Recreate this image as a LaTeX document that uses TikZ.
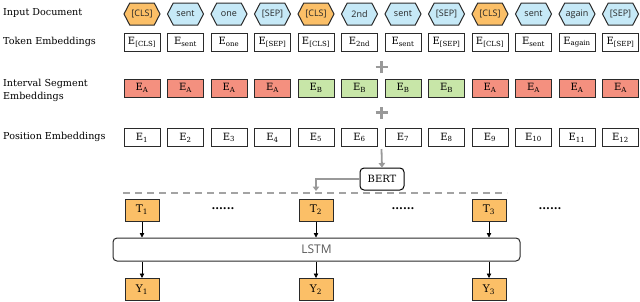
\documentclass[tikz,border=0pt]{standalone}
\usepackage{fontspec}
\setmainfont{DejaVu Serif}
\newfontfamily\hexfont{Open Sans}
\usetikzlibrary{shapes.symbols,arrows.meta}
\definecolor{clsorange}{HTML}{FBBF67}
\definecolor{tokblue}{HTML}{C6E9F7}
\definecolor{segred}{HTML}{F4907F}
\definecolor{seggreen}{HTML}{C8E6A8}
\definecolor{flowgray}{HTML}{999999}
\definecolor{edgedark}{HTML}{2A2A2A}
\begin{document}
\begin{tikzpicture}[x=1pt,y=-1pt,
  rowlabel/.style={anchor=west,align=left,font=\fontsize{9.6}{13}\selectfont,inner sep=0pt},
  hexbox/.style={shape=signal,signal to=east and west,signal pointer angle=125,draw=edgedark,line width=1pt,minimum width=36pt,minimum height=22pt,inner sep=0pt,font=\hexfont\fontsize{9}{10}\selectfont,text=black!85},
  embbox/.style={draw=edgedark,line width=1pt,minimum width=36pt,minimum height=18pt,inner sep=0pt,font=\fontsize{10}{11}\selectfont},
  outbox/.style={draw=edgedark,line width=1pt,fill=clsorange,minimum width=34pt,minimum height=22pt,inner sep=0pt,font=\fontsize{10.5}{11}\selectfont},
  grayarrow/.style={draw=flowgray,line width=1.8pt,-{Triangle[width=6.5pt,length=4.5pt]}},
  blackarrow/.style={draw=black,line width=0.8pt,-{Triangle[width=4.5pt,length=4.5pt]}},
  plussign/.style={draw=flowgray,line width=2.6pt},
  dots/.style={font=\bfseries\fontsize{11}{11}\selectfont,inner sep=0pt}
]
\useasboundingbox (0,0) rectangle (640,301);

% row labels
\node[rowlabel] (lin) at (3,13) {Input Document};
\node[rowlabel] (ltok) at (3,42) {Token Embeddings};
\node[rowlabel] (lseg) at (3,90.5) {Interval Segment\\Embeddings};
\node[rowlabel] (lpos) at (3,137) {Position Embeddings};

% input tokens
\foreach \i/\w/\c in {1/[CLS]/clsorange,2/sent/tokblue,3/one/tokblue,4/[SEP]/tokblue,5/[CLS]/clsorange,6/2nd/tokblue,7/sent/tokblue,8/[SEP]/tokblue,9/[CLS]/clsorange,10/sent/tokblue,11/again/tokblue,12/[SEP]/tokblue}
  \node[hexbox,fill=\c] (h\i) at ({142+43.5*(\i-1)},14) {\w};

% token embeddings
\foreach \i/\w in {1/[CLS],2/sent,3/one,4/[SEP],5/[CLS],6/2nd,7/sent,8/[SEP],9/[CLS],10/sent,11/again,12/[SEP]}
  \node[embbox] (t\i) at ({142+43.5*(\i-1)},42) {E\textsubscript{\w}};

% segment embeddings
\foreach \i/\s/\c in {1/A/segred,2/A/segred,3/A/segred,4/A/segred,5/B/seggreen,6/B/seggreen,7/B/seggreen,8/B/seggreen,9/A/segred,10/A/segred,11/A/segred,12/A/segred}
  \node[embbox,fill=\c] (s\i) at ({142+43.5*(\i-1)},88) {E\textsubscript{\s}};

% position embeddings
\foreach \i in {1,...,12}
  \node[embbox] (p\i) at ({142+43.5*(\i-1)},137.5) {E\textsubscript{\i}};

% plus signs
\coordinate (plusA) at (381.5,67);
\coordinate (plusB) at (381.5,112.5);
\foreach \p in {plusA,plusB}{
  \draw[plussign] ([xshift=-6pt]\p) -- ([xshift=6pt]\p);
  \draw[plussign] ([yshift=-6pt]\p) -- ([yshift=6pt]\p);
}

% BERT
\node[draw=black,line width=1pt,rounded corners=4pt,minimum width=44pt,minimum height=22pt,inner sep=0pt,font=\fontsize{10}{11}\selectfont] (bert) at (382,179) {BERT};
\coordinate (posbot) at (381.5,149);
\draw[grayarrow] (posbot) -- (bert.north);
\coordinate (bertdrop) at (316,191);
\draw[grayarrow] (bert.west) -| (bertdrop);

% dashed separator
\coordinate (dashL) at (123,193);
\coordinate (dashR) at (507,193);
\draw[flowgray!90,line width=1.1pt,dash pattern=on 7pt off 5pt] (dashL) -- (dashR);

% LSTM
\node[draw=edgedark,line width=1pt,rounded corners=4pt,minimum width=407pt,minimum height=23pt,inner sep=0pt,font=\hexfont\fontsize{12}{13}\selectfont,text=black!65] (lstm) at (316.5,249.5) {LSTM};

% T and Y boxes
\foreach \k/\x in {1/142,2/316,3/489}{
  \node[outbox] (T\k) at (\x,210) {T\textsubscript{\k}};
  \node[outbox] (Y\k) at (\x,289.5) {Y\textsubscript{\k}};
  \draw[blackarrow] (T\k.south) -- (T\k.south |- lstm.north);
  \draw[blackarrow] (T\k.south |- lstm.south) -- (Y\k.north);
}

% dots
\node[dots] (d1) at (223,209) {......};
\node[dots] (d2) at (403,209) {......};
\node[dots] (d3) at (550,209) {......};
\end{tikzpicture}
\end{document}
